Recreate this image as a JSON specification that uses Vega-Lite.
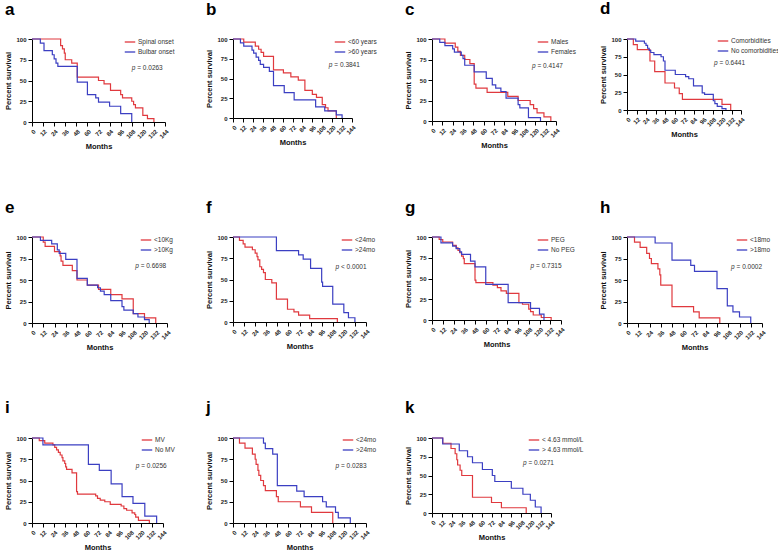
{
"$schema": "https://vega.github.io/schema/vega-lite/v6.json",
"background": "white",
"padding": {"left": 4, "top": 0, "right": 5, "bottom": 5},
"datasets": {
"km": [
{"panel":"a","group":"Spinal onset","month":0,"survival":100},{"panel":"a","group":"Spinal onset","month":31,"survival":92},{"panel":"a","group":"Spinal onset","month":33,"survival":88},{"panel":"a","group":"Spinal onset","month":35,"survival":83},{"panel":"a","group":"Spinal onset","month":36,"survival":75},{"panel":"a","group":"Spinal onset","month":43,"survival":71},{"panel":"a","group":"Spinal onset","month":49,"survival":54},{"panel":"a","group":"Spinal onset","month":72,"survival":50},{"panel":"a","group":"Spinal onset","month":78,"survival":46},{"panel":"a","group":"Spinal onset","month":85,"survival":38},{"panel":"a","group":"Spinal onset","month":96,"survival":33},{"panel":"a","group":"Spinal onset","month":98,"survival":29},{"panel":"a","group":"Spinal onset","month":108,"survival":25},{"panel":"a","group":"Spinal onset","month":110,"survival":21},{"panel":"a","group":"Spinal onset","month":112,"survival":17},{"panel":"a","group":"Spinal onset","month":120,"survival":8},{"panel":"a","group":"Spinal onset","month":125,"survival":4},{"panel":"a","group":"Spinal onset","month":132,"survival":0},
{"panel":"a","group":"Bulbar onset","month":0,"survival":100},{"panel":"a","group":"Bulbar onset","month":9,"survival":95},{"panel":"a","group":"Bulbar onset","month":13,"survival":86},{"panel":"a","group":"Bulbar onset","month":22,"survival":81},{"panel":"a","group":"Bulbar onset","month":24,"survival":76},{"panel":"a","group":"Bulbar onset","month":26,"survival":71},{"panel":"a","group":"Bulbar onset","month":28,"survival":67},{"panel":"a","group":"Bulbar onset","month":49,"survival":48},{"panel":"a","group":"Bulbar onset","month":60,"survival":33},{"panel":"a","group":"Bulbar onset","month":69,"survival":29},{"panel":"a","group":"Bulbar onset","month":72,"survival":24},{"panel":"a","group":"Bulbar onset","month":84,"survival":19},{"panel":"a","group":"Bulbar onset","month":96,"survival":10},{"panel":"a","group":"Bulbar onset","month":108,"survival":0},
{"panel":"b","group":"<60 years","month":0,"survival":100},{"panel":"b","group":"<60 years","month":13,"survival":96},{"panel":"b","group":"<60 years","month":27,"survival":91},{"panel":"b","group":"<60 years","month":31,"survival":87},{"panel":"b","group":"<60 years","month":34,"survival":83},{"panel":"b","group":"<60 years","month":37,"survival":78},{"panel":"b","group":"<60 years","month":49,"survival":61},{"panel":"b","group":"<60 years","month":61,"survival":57},{"panel":"b","group":"<60 years","month":70,"survival":52},{"panel":"b","group":"<60 years","month":79,"survival":48},{"panel":"b","group":"<60 years","month":87,"survival":35},{"panel":"b","group":"<60 years","month":96,"survival":30},{"panel":"b","group":"<60 years","month":101,"survival":26},{"panel":"b","group":"<60 years","month":108,"survival":17},{"panel":"b","group":"<60 years","month":112,"survival":13},{"panel":"b","group":"<60 years","month":115,"survival":9},{"panel":"b","group":"<60 years","month":125,"survival":0},
{"panel":"b","group":">60 years","month":0,"survival":100},{"panel":"b","group":">60 years","month":9,"survival":95},{"panel":"b","group":">60 years","month":13,"survival":91},{"panel":"b","group":">60 years","month":23,"survival":86},{"panel":"b","group":">60 years","month":25,"survival":82},{"panel":"b","group":">60 years","month":28,"survival":77},{"panel":"b","group":">60 years","month":31,"survival":73},{"panel":"b","group":">60 years","month":33,"survival":68},{"panel":"b","group":">60 years","month":37,"survival":64},{"panel":"b","group":">60 years","month":44,"survival":59},{"panel":"b","group":">60 years","month":49,"survival":41},{"panel":"b","group":">60 years","month":62,"survival":32},{"panel":"b","group":">60 years","month":74,"survival":23},{"panel":"b","group":">60 years","month":100,"survival":14},{"panel":"b","group":">60 years","month":111,"survival":9},{"panel":"b","group":">60 years","month":125,"survival":4},{"panel":"b","group":">60 years","month":132,"survival":0},
{"panel":"c","group":"Males","month":0,"survival":100},{"panel":"c","group":"Males","month":15,"survival":95},{"panel":"c","group":"Males","month":27,"survival":90},{"panel":"c","group":"Males","month":30,"survival":85},{"panel":"c","group":"Males","month":33,"survival":80},{"panel":"c","group":"Males","month":38,"survival":75},{"panel":"c","group":"Males","month":44,"survival":70},{"panel":"c","group":"Males","month":49,"survival":45},{"panel":"c","group":"Males","month":51,"survival":40},{"panel":"c","group":"Males","month":64,"survival":35},{"panel":"c","group":"Males","month":88,"survival":30},{"panel":"c","group":"Males","month":100,"survival":25},{"panel":"c","group":"Males","month":114,"survival":20},{"panel":"c","group":"Males","month":118,"survival":15},{"panel":"c","group":"Males","month":122,"survival":10},{"panel":"c","group":"Males","month":130,"survival":5},{"panel":"c","group":"Males","month":138,"survival":0},
{"panel":"c","group":"Females","month":0,"survival":100},{"panel":"c","group":"Females","month":9,"survival":96},{"panel":"c","group":"Females","month":15,"survival":92},{"panel":"c","group":"Females","month":24,"survival":88},{"panel":"c","group":"Females","month":26,"survival":84},{"panel":"c","group":"Females","month":34,"survival":80},{"panel":"c","group":"Females","month":36,"survival":76},{"panel":"c","group":"Females","month":38,"survival":68},{"panel":"c","group":"Females","month":49,"survival":60},{"panel":"c","group":"Females","month":63,"survival":52},{"panel":"c","group":"Females","month":70,"survival":44},{"panel":"c","group":"Females","month":74,"survival":40},{"panel":"c","group":"Females","month":80,"survival":36},{"panel":"c","group":"Females","month":86,"survival":28},{"panel":"c","group":"Females","month":100,"survival":20},{"panel":"c","group":"Females","month":102,"survival":16},{"panel":"c","group":"Females","month":112,"survival":4},{"panel":"c","group":"Females","month":126,"survival":0},
{"panel":"d","group":"Comorbidities","month":0,"survival":100},{"panel":"d","group":"Comorbidities","month":8,"survival":92},{"panel":"d","group":"Comorbidities","month":13,"survival":85},{"panel":"d","group":"Comorbidities","month":29,"survival":69},{"panel":"d","group":"Comorbidities","month":35,"survival":54},{"panel":"d","group":"Comorbidities","month":48,"survival":38},{"panel":"d","group":"Comorbidities","month":60,"survival":31},{"panel":"d","group":"Comorbidities","month":66,"survival":23},{"panel":"d","group":"Comorbidities","month":70,"survival":15},{"panel":"d","group":"Comorbidities","month":120,"survival":8},{"panel":"d","group":"Comorbidities","month":131,"survival":0},
{"panel":"d","group":"No comorbidities","month":0,"survival":100},{"panel":"d","group":"No comorbidities","month":11,"survival":97},{"panel":"d","group":"No comorbidities","month":22,"survival":94},{"panel":"d","group":"No comorbidities","month":24,"survival":91},{"panel":"d","group":"No comorbidities","month":26,"survival":87},{"panel":"d","group":"No comorbidities","month":28,"survival":84},{"panel":"d","group":"No comorbidities","month":30,"survival":81},{"panel":"d","group":"No comorbidities","month":34,"survival":78},{"panel":"d","group":"No comorbidities","month":43,"survival":75},{"panel":"d","group":"No comorbidities","month":46,"survival":69},{"panel":"d","group":"No comorbidities","month":48,"survival":56},{"panel":"d","group":"No comorbidities","month":61,"survival":50},{"panel":"d","group":"No comorbidities","month":74,"survival":47},{"panel":"d","group":"No comorbidities","month":78,"survival":44},{"panel":"d","group":"No comorbidities","month":84,"survival":34},{"panel":"d","group":"No comorbidities","month":95,"survival":24},{"panel":"d","group":"No comorbidities","month":98,"survival":22},{"panel":"d","group":"No comorbidities","month":109,"survival":13},{"panel":"d","group":"No comorbidities","month":111,"survival":9},{"panel":"d","group":"No comorbidities","month":114,"survival":5},{"panel":"d","group":"No comorbidities","month":120,"survival":2},{"panel":"d","group":"No comorbidities","month":125,"survival":0},
{"panel":"e","group":"<10Kg","month":0,"survival":100},{"panel":"e","group":"<10Kg","month":12,"survival":94},{"panel":"e","group":"<10Kg","month":14,"survival":89},{"panel":"e","group":"<10Kg","month":24,"survival":83},{"panel":"e","group":"<10Kg","month":30,"survival":78},{"panel":"e","group":"<10Kg","month":31,"survival":72},{"panel":"e","group":"<10Kg","month":33,"survival":67},{"panel":"e","group":"<10Kg","month":43,"survival":61},{"panel":"e","group":"<10Kg","month":48,"survival":50},{"panel":"e","group":"<10Kg","month":59,"survival":44},{"panel":"e","group":"<10Kg","month":71,"survival":39},{"panel":"e","group":"<10Kg","month":84,"survival":33},{"panel":"e","group":"<10Kg","month":96,"survival":28},{"panel":"e","group":"<10Kg","month":108,"survival":11},{"panel":"e","group":"<10Kg","month":120,"survival":6},{"panel":"e","group":"<10Kg","month":132,"survival":0},
{"panel":"e","group":">10Kg","month":0,"survival":100},{"panel":"e","group":">10Kg","month":9,"survival":96},{"panel":"e","group":">10Kg","month":21,"survival":92},{"panel":"e","group":">10Kg","month":27,"survival":85},{"panel":"e","group":">10Kg","month":29,"survival":81},{"panel":"e","group":">10Kg","month":36,"survival":74},{"panel":"e","group":">10Kg","month":48,"survival":52},{"panel":"e","group":">10Kg","month":59,"survival":44},{"panel":"e","group":">10Kg","month":70,"survival":41},{"panel":"e","group":">10Kg","month":73,"survival":37},{"panel":"e","group":">10Kg","month":77,"survival":33},{"panel":"e","group":">10Kg","month":84,"survival":26},{"panel":"e","group":">10Kg","month":96,"survival":19},{"panel":"e","group":">10Kg","month":98,"survival":15},{"panel":"e","group":">10Kg","month":108,"survival":11},{"panel":"e","group":">10Kg","month":113,"survival":7},{"panel":"e","group":">10Kg","month":120,"survival":4},{"panel":"e","group":">10Kg","month":125,"survival":0},
{"panel":"f","group":"<24mo","month":0,"survival":100},{"panel":"f","group":"<24mo","month":7,"survival":96},{"panel":"f","group":"<24mo","month":11,"survival":92},{"panel":"f","group":"<24mo","month":13,"survival":88},{"panel":"f","group":"<24mo","month":21,"survival":85},{"panel":"f","group":"<24mo","month":24,"survival":81},{"panel":"f","group":"<24mo","month":26,"survival":77},{"panel":"f","group":"<24mo","month":27,"survival":73},{"panel":"f","group":"<24mo","month":29,"survival":65},{"panel":"f","group":"<24mo","month":31,"survival":62},{"panel":"f","group":"<24mo","month":33,"survival":58},{"panel":"f","group":"<24mo","month":35,"survival":50},{"panel":"f","group":"<24mo","month":42,"survival":46},{"panel":"f","group":"<24mo","month":47,"survival":27},{"panel":"f","group":"<24mo","month":59,"survival":15},{"panel":"f","group":"<24mo","month":66,"survival":12},{"panel":"f","group":"<24mo","month":71,"survival":8},{"panel":"f","group":"<24mo","month":83,"survival":4},{"panel":"f","group":"<24mo","month":113,"survival":0},
{"panel":"f","group":">24mo","month":0,"survival":100},{"panel":"f","group":">24mo","month":47,"survival":84},{"panel":"f","group":">24mo","month":71,"survival":79},{"panel":"f","group":">24mo","month":76,"survival":74},{"panel":"f","group":">24mo","month":84,"survival":63},{"panel":"f","group":">24mo","month":96,"survival":47},{"panel":"f","group":">24mo","month":97,"survival":42},{"panel":"f","group":">24mo","month":108,"survival":21},{"panel":"f","group":">24mo","month":120,"survival":11},{"panel":"f","group":">24mo","month":125,"survival":5},{"panel":"f","group":">24mo","month":132,"survival":0},
{"panel":"g","group":"PEG","month":0,"survival":100},{"panel":"g","group":"PEG","month":8,"survival":97},{"panel":"g","group":"PEG","month":12,"survival":94},{"panel":"g","group":"PEG","month":23,"survival":90},{"panel":"g","group":"PEG","month":27,"survival":87},{"panel":"g","group":"PEG","month":29,"survival":84},{"panel":"g","group":"PEG","month":31,"survival":81},{"panel":"g","group":"PEG","month":33,"survival":77},{"panel":"g","group":"PEG","month":35,"survival":74},{"panel":"g","group":"PEG","month":36,"survival":68},{"panel":"g","group":"PEG","month":48,"survival":48},{"panel":"g","group":"PEG","month":49,"survival":45},{"panel":"g","group":"PEG","month":68,"survival":42},{"panel":"g","group":"PEG","month":73,"survival":39},{"panel":"g","group":"PEG","month":77,"survival":35},{"panel":"g","group":"PEG","month":83,"survival":32},{"panel":"g","group":"PEG","month":97,"survival":21},{"panel":"g","group":"PEG","month":101,"survival":19},{"panel":"g","group":"PEG","month":108,"survival":13},{"panel":"g","group":"PEG","month":110,"survival":10},{"panel":"g","group":"PEG","month":113,"survival":6},{"panel":"g","group":"PEG","month":122,"survival":3},{"panel":"g","group":"PEG","month":133,"survival":0},
{"panel":"g","group":"No PEG","month":0,"survival":100},{"panel":"g","group":"No PEG","month":10,"survival":93},{"panel":"g","group":"No PEG","month":23,"survival":89},{"panel":"g","group":"No PEG","month":27,"survival":86},{"panel":"g","group":"No PEG","month":31,"survival":82},{"panel":"g","group":"No PEG","month":33,"survival":79},{"panel":"g","group":"No PEG","month":43,"survival":71},{"panel":"g","group":"No PEG","month":48,"survival":64},{"panel":"g","group":"No PEG","month":60,"survival":43},{"panel":"g","group":"No PEG","month":85,"survival":21},{"panel":"g","group":"No PEG","month":110,"survival":14},{"panel":"g","group":"No PEG","month":120,"survival":7},{"panel":"g","group":"No PEG","month":125,"survival":0},
{"panel":"h","group":"<18mo","month":0,"survival":100},{"panel":"h","group":"<18mo","month":8,"survival":94},{"panel":"h","group":"<18mo","month":14,"survival":88},{"panel":"h","group":"<18mo","month":21,"survival":81},{"panel":"h","group":"<18mo","month":24,"survival":75},{"panel":"h","group":"<18mo","month":26,"survival":69},{"panel":"h","group":"<18mo","month":33,"survival":63},{"panel":"h","group":"<18mo","month":35,"survival":56},{"panel":"h","group":"<18mo","month":36,"survival":44},{"panel":"h","group":"<18mo","month":48,"survival":19},{"panel":"h","group":"<18mo","month":71,"survival":13},{"panel":"h","group":"<18mo","month":77,"survival":6},{"panel":"h","group":"<18mo","month":99,"survival":0},
{"panel":"h","group":">18mo","month":0,"survival":100},{"panel":"h","group":">18mo","month":30,"survival":93},{"panel":"h","group":">18mo","month":48,"survival":73},{"panel":"h","group":">18mo","month":68,"survival":67},{"panel":"h","group":">18mo","month":72,"survival":60},{"panel":"h","group":">18mo","month":96,"survival":40},{"panel":"h","group":">18mo","month":107,"survival":20},{"panel":"h","group":">18mo","month":113,"survival":13},{"panel":"h","group":">18mo","month":120,"survival":7},{"panel":"h","group":">18mo","month":132,"survival":0},
{"panel":"i","group":"MV","month":0,"survival":100},{"panel":"i","group":"MV","month":8,"survival":97},{"panel":"i","group":"MV","month":14,"survival":94},{"panel":"i","group":"MV","month":23,"survival":92},{"panel":"i","group":"MV","month":25,"survival":89},{"panel":"i","group":"MV","month":27,"survival":86},{"panel":"i","group":"MV","month":29,"survival":83},{"panel":"i","group":"MV","month":31,"survival":80},{"panel":"i","group":"MV","month":33,"survival":77},{"panel":"i","group":"MV","month":34,"survival":73},{"panel":"i","group":"MV","month":36,"survival":70},{"panel":"i","group":"MV","month":37,"survival":66},{"panel":"i","group":"MV","month":38,"survival":63},{"panel":"i","group":"MV","month":44,"survival":59},{"panel":"i","group":"MV","month":49,"survival":37},{"panel":"i","group":"MV","month":50,"survival":34},{"panel":"i","group":"MV","month":70,"survival":32},{"panel":"i","group":"MV","month":72,"survival":29},{"panel":"i","group":"MV","month":75,"survival":27},{"panel":"i","group":"MV","month":80,"survival":25},{"panel":"i","group":"MV","month":86,"survival":22},{"panel":"i","group":"MV","month":98,"survival":20},{"panel":"i","group":"MV","month":101,"survival":17},{"panel":"i","group":"MV","month":104,"survival":15},{"panel":"i","group":"MV","month":110,"survival":12},{"panel":"i","group":"MV","month":113,"survival":10},{"panel":"i","group":"MV","month":114,"survival":7},{"panel":"i","group":"MV","month":117,"survival":3},{"panel":"i","group":"MV","month":129,"survival":0},
{"panel":"i","group":"No MV","month":0,"survival":100},{"panel":"i","group":"No MV","month":12,"survival":92},{"panel":"i","group":"No MV","month":62,"survival":69},{"panel":"i","group":"No MV","month":74,"survival":62},{"panel":"i","group":"No MV","month":87,"survival":46},{"panel":"i","group":"No MV","month":99,"survival":31},{"panel":"i","group":"No MV","month":111,"survival":23},{"panel":"i","group":"No MV","month":124,"survival":8},{"panel":"i","group":"No MV","month":137,"survival":0},
{"panel":"j","group":"<24mo","month":0,"survival":100},{"panel":"j","group":"<24mo","month":7,"survival":94},{"panel":"j","group":"<24mo","month":13,"survival":88},{"panel":"j","group":"<24mo","month":21,"survival":81},{"panel":"j","group":"<24mo","month":24,"survival":75},{"panel":"j","group":"<24mo","month":25,"survival":69},{"panel":"j","group":"<24mo","month":27,"survival":62},{"panel":"j","group":"<24mo","month":28,"survival":56},{"panel":"j","group":"<24mo","month":30,"survival":50},{"panel":"j","group":"<24mo","month":33,"survival":44},{"panel":"j","group":"<24mo","month":35,"survival":38},{"panel":"j","group":"<24mo","month":47,"survival":31},{"panel":"j","group":"<24mo","month":49,"survival":25},{"panel":"j","group":"<24mo","month":73,"survival":19},{"panel":"j","group":"<24mo","month":85,"survival":12.5},{"panel":"j","group":"<24mo","month":108,"survival":0},
{"panel":"j","group":">24mo","month":0,"survival":100},{"panel":"j","group":">24mo","month":33,"survival":94},{"panel":"j","group":">24mo","month":35,"survival":87.5},{"panel":"j","group":">24mo","month":43,"survival":81},{"panel":"j","group":">24mo","month":48,"survival":44},{"panel":"j","group":">24mo","month":69,"survival":37.5},{"panel":"j","group":">24mo","month":77,"survival":31},{"panel":"j","group":">24mo","month":97,"survival":25},{"panel":"j","group":">24mo","month":101,"survival":19},{"panel":"j","group":">24mo","month":111,"survival":12.5},{"panel":"j","group":">24mo","month":114,"survival":6},{"panel":"j","group":">24mo","month":127,"survival":0},
{"panel":"k","group":"< 4.63 mmol/L","month":0,"survival":100},{"panel":"k","group":"< 4.63 mmol/L","month":13,"survival":93},{"panel":"k","group":"< 4.63 mmol/L","month":23,"survival":86},{"panel":"k","group":"< 4.63 mmol/L","month":28,"survival":79},{"panel":"k","group":"< 4.63 mmol/L","month":30,"survival":71},{"panel":"k","group":"< 4.63 mmol/L","month":31,"survival":64},{"panel":"k","group":"< 4.63 mmol/L","month":34,"survival":57},{"panel":"k","group":"< 4.63 mmol/L","month":36,"survival":50},{"panel":"k","group":"< 4.63 mmol/L","month":49,"survival":21},{"panel":"k","group":"< 4.63 mmol/L","month":72,"survival":14},{"panel":"k","group":"< 4.63 mmol/L","month":84,"survival":7},{"panel":"k","group":"< 4.63 mmol/L","month":114,"survival":0},
{"panel":"k","group":"> 4.63 mmol/L","month":0,"survival":100},{"panel":"k","group":"> 4.63 mmol/L","month":13,"survival":92},{"panel":"k","group":"> 4.63 mmol/L","month":33,"survival":83},{"panel":"k","group":"> 4.63 mmol/L","month":43,"survival":75},{"panel":"k","group":"> 4.63 mmol/L","month":49,"survival":67},{"panel":"k","group":"> 4.63 mmol/L","month":61,"survival":58},{"panel":"k","group":"> 4.63 mmol/L","month":73,"survival":50},{"panel":"k","group":"> 4.63 mmol/L","month":76,"survival":42},{"panel":"k","group":"> 4.63 mmol/L","month":96,"survival":33},{"panel":"k","group":"> 4.63 mmol/L","month":110,"survival":25},{"panel":"k","group":"> 4.63 mmol/L","month":119,"survival":17},{"panel":"k","group":"> 4.63 mmol/L","month":125,"survival":8},{"panel":"k","group":"> 4.63 mmol/L","month":132,"survival":0}
],
"pv": [
{"panel":"a","value":"= 0.0263"},{"panel":"b","value":"= 0.3841"},{"panel":"c","value":"= 0.4147"},{"panel":"d","value":"= 0.6441"},{"panel":"e","value":"= 0.6698"},{"panel":"f","value":"< 0.0001"},{"panel":"g","value":"= 0.7315"},{"panel":"h","value":"= 0.0002"},{"panel":"i","value":"= 0.0256"},{"panel":"j","value":"= 0.0283"},{"panel":"k","value":"= 0.0271"}
]
},
"columns": 4,
"spacing": {"row": 115, "column": 66},
"bounds": "flush",
"resolve": {"scale": {"color": "independent", "x": "independent", "y": "independent"}, "legend": {"color": "independent"}},
"concat": [
{"title": "a", "width": 133, "height": 83, "layer": [
 {"data": {"name": "km"}, "transform": [{"filter": "datum.panel === 'a'"}], "mark": {"type": "line", "interpolate": "step-after", "strokeWidth": 1.2},
  "encoding": {"x": {"field": "month", "type": "quantitative", "scale": {"domain": [0, 144], "nice": false}, "axis": {"values": [0,12,24,36,48,60,72,84,96,108,120,132,144], "tickCount": 20, "title": "Months"}},
   "y": {"field": "survival", "type": "quantitative", "scale": {"domain": [0, 100], "nice": false}, "axis": {"values": [0,25,50,75,100], "tickCount": 10, "title": "Percent survival"}},
   "color": {"field": "group", "type": "nominal", "scale": {"domain": ["Spinal onset", "Bulbar onset"], "range": ["#e0393e", "#3b3fc2"]}, "legend": {"title": null, "legendX": 92, "legendY": -3}}}},
 {"data": {"name": "pv"}, "transform": [{"filter": "datum.panel === 'a'"}], "mark": {"type": "text", "fontStyle": "italic", "align": "left", "baseline": "middle", "fontSize": 6.5, "color": "#333"}, "encoding": {"x": {"datum": 108, "type": "quantitative"}, "y": {"datum": 65, "type": "quantitative"}, "text": {"value": "p"}}},
 {"data": {"name": "pv"}, "transform": [{"filter": "datum.panel === 'a'"}], "mark": {"type": "text", "align": "left", "baseline": "middle", "fontSize": 6.5, "color": "#333", "dx": 5.5}, "encoding": {"x": {"datum": 108, "type": "quantitative"}, "y": {"datum": 65, "type": "quantitative"}, "text": {"field": "value"}}}
]},
{"title": "b", "width": 119, "height": 79, "layer": [
 {"data": {"name": "km"}, "transform": [{"filter": "datum.panel === 'b'"}], "mark": {"type": "line", "interpolate": "step-after", "strokeWidth": 1.2},
  "encoding": {"x": {"field": "month", "type": "quantitative", "scale": {"domain": [0, 144], "nice": false}, "axis": {"values": [0,12,24,36,48,60,72,84,96,108,120,132,144], "tickCount": 20, "title": "Months"}},
   "y": {"field": "survival", "type": "quantitative", "scale": {"domain": [0, 100], "nice": false}, "axis": {"values": [0,25,50,75,100], "tickCount": 10, "title": "Percent survival"}},
   "color": {"field": "group", "type": "nominal", "scale": {"domain": ["<60 years", ">60 years"], "range": ["#e0393e", "#3b3fc2"]}, "legend": {"title": null, "legendX": 101, "legendY": -3}}}},
 {"data": {"name": "pv"}, "transform": [{"filter": "datum.panel === 'b'"}], "mark": {"type": "text", "fontStyle": "italic", "align": "left", "baseline": "middle", "fontSize": 6.5, "color": "#333"}, "encoding": {"x": {"datum": 116, "type": "quantitative"}, "y": {"datum": 67, "type": "quantitative"}, "text": {"value": "p"}}},
 {"data": {"name": "pv"}, "transform": [{"filter": "datum.panel === 'b'"}], "mark": {"type": "text", "align": "left", "baseline": "middle", "fontSize": 6.5, "color": "#333", "dx": 5.5}, "encoding": {"x": {"datum": 116, "type": "quantitative"}, "y": {"datum": 67, "type": "quantitative"}, "text": {"field": "value"}}}
]},
{"title": "c", "width": 124, "height": 82, "layer": [
 {"data": {"name": "km"}, "transform": [{"filter": "datum.panel === 'c'"}], "mark": {"type": "line", "interpolate": "step-after", "strokeWidth": 1.2},
  "encoding": {"x": {"field": "month", "type": "quantitative", "scale": {"domain": [0, 144], "nice": false}, "axis": {"values": [0,12,24,36,48,60,72,84,96,108,120,132,144], "tickCount": 20, "title": "Months"}},
   "y": {"field": "survival", "type": "quantitative", "scale": {"domain": [0, 100], "nice": false}, "axis": {"values": [0,25,50,75,100], "tickCount": 10, "title": "Percent survival"}},
   "color": {"field": "group", "type": "nominal", "scale": {"domain": ["Males", "Females"], "range": ["#e0393e", "#3b3fc2"]}, "legend": {"title": null, "legendX": 105, "legendY": -3}}}},
 {"data": {"name": "pv"}, "transform": [{"filter": "datum.panel === 'c'"}], "mark": {"type": "text", "fontStyle": "italic", "align": "left", "baseline": "middle", "fontSize": 6.5, "color": "#333"}, "encoding": {"x": {"datum": 116, "type": "quantitative"}, "y": {"datum": 67, "type": "quantitative"}, "text": {"value": "p"}}},
 {"data": {"name": "pv"}, "transform": [{"filter": "datum.panel === 'c'"}], "mark": {"type": "text", "align": "left", "baseline": "middle", "fontSize": 6.5, "color": "#333", "dx": 5.5}, "encoding": {"x": {"datum": 116, "type": "quantitative"}, "y": {"datum": 67, "type": "quantitative"}, "text": {"field": "value"}}}
]},
{"title": "d", "width": 114, "height": 71, "layer": [
 {"data": {"name": "km"}, "transform": [{"filter": "datum.panel === 'd'"}], "mark": {"type": "line", "interpolate": "step-after", "strokeWidth": 1.2},
  "encoding": {"x": {"field": "month", "type": "quantitative", "scale": {"domain": [0, 144], "nice": false}, "axis": {"values": [0,12,24,36,48,60,72,84,96,108,120,132,144], "tickCount": 20, "title": "Months"}},
   "y": {"field": "survival", "type": "quantitative", "scale": {"domain": [0, 100], "nice": false}, "axis": {"values": [0,25,50,75,100], "tickCount": 10, "title": "Percent survival"}},
   "color": {"field": "group", "type": "nominal", "scale": {"domain": ["Comorbidities", "No comorbidities"], "range": ["#e0393e", "#3b3fc2"]}, "legend": {"title": null, "legendX": 90, "legendY": -4}}}},
 {"data": {"name": "pv"}, "transform": [{"filter": "datum.panel === 'd'"}], "mark": {"type": "text", "fontStyle": "italic", "align": "left", "baseline": "middle", "fontSize": 6.5, "color": "#333"}, "encoding": {"x": {"datum": 110, "type": "quantitative"}, "y": {"datum": 66, "type": "quantitative"}, "text": {"value": "p"}}},
 {"data": {"name": "pv"}, "transform": [{"filter": "datum.panel === 'd'"}], "mark": {"type": "text", "align": "left", "baseline": "middle", "fontSize": 6.5, "color": "#333", "dx": 5.5}, "encoding": {"x": {"datum": 110, "type": "quantitative"}, "y": {"datum": 66, "type": "quantitative"}, "text": {"field": "value"}}}
]},
{"title": "e", "width": 135, "height": 86, "layer": [
 {"data": {"name": "km"}, "transform": [{"filter": "datum.panel === 'e'"}], "mark": {"type": "line", "interpolate": "step-after", "strokeWidth": 1.2},
  "encoding": {"x": {"field": "month", "type": "quantitative", "scale": {"domain": [0, 144], "nice": false}, "axis": {"values": [0,12,24,36,48,60,72,84,96,108,120,132,144], "tickCount": 20, "title": "Months"}},
   "y": {"field": "survival", "type": "quantitative", "scale": {"domain": [0, 100], "nice": false}, "axis": {"values": [0,25,50,75,100], "tickCount": 10, "title": "Percent survival"}},
   "color": {"field": "group", "type": "nominal", "scale": {"domain": ["<10Kg", ">10Kg"], "range": ["#e0393e", "#3b3fc2"]}, "legend": {"title": null, "legendX": 108, "legendY": -3}}}},
 {"data": {"name": "pv"}, "transform": [{"filter": "datum.panel === 'e'"}], "mark": {"type": "text", "fontStyle": "italic", "align": "left", "baseline": "middle", "fontSize": 6.5, "color": "#333"}, "encoding": {"x": {"datum": 110, "type": "quantitative"}, "y": {"datum": 66, "type": "quantitative"}, "text": {"value": "p"}}},
 {"data": {"name": "pv"}, "transform": [{"filter": "datum.panel === 'e'"}], "mark": {"type": "text", "align": "left", "baseline": "middle", "fontSize": 6.5, "color": "#333", "dx": 5.5}, "encoding": {"x": {"datum": 110, "type": "quantitative"}, "y": {"datum": 66, "type": "quantitative"}, "text": {"field": "value"}}}
]},
{"title": "f", "width": 133, "height": 85, "layer": [
 {"data": {"name": "km"}, "transform": [{"filter": "datum.panel === 'f'"}], "mark": {"type": "line", "interpolate": "step-after", "strokeWidth": 1.2},
  "encoding": {"x": {"field": "month", "type": "quantitative", "scale": {"domain": [0, 144], "nice": false}, "axis": {"values": [0,12,24,36,48,60,72,84,96,108,120,132,144], "tickCount": 20, "title": "Months"}},
   "y": {"field": "survival", "type": "quantitative", "scale": {"domain": [0, 100], "nice": false}, "axis": {"values": [0,25,50,75,100], "tickCount": 10, "title": "Percent survival"}},
   "color": {"field": "group", "type": "nominal", "scale": {"domain": ["<24mo", ">24mo"], "range": ["#e0393e", "#3b3fc2"]}, "legend": {"title": null, "legendX": 108, "legendY": -3}}}},
 {"data": {"name": "pv"}, "transform": [{"filter": "datum.panel === 'f'"}], "mark": {"type": "text", "fontStyle": "italic", "align": "left", "baseline": "middle", "fontSize": 6.5, "color": "#333"}, "encoding": {"x": {"datum": 111, "type": "quantitative"}, "y": {"datum": 65, "type": "quantitative"}, "text": {"value": "p"}}},
 {"data": {"name": "pv"}, "transform": [{"filter": "datum.panel === 'f'"}], "mark": {"type": "text", "align": "left", "baseline": "middle", "fontSize": 6.5, "color": "#333", "dx": 5.5}, "encoding": {"x": {"datum": 111, "type": "quantitative"}, "y": {"datum": 65, "type": "quantitative"}, "text": {"field": "value"}}}
]},
{"title": "g", "width": 129, "height": 83, "layer": [
 {"data": {"name": "km"}, "transform": [{"filter": "datum.panel === 'g'"}], "mark": {"type": "line", "interpolate": "step-after", "strokeWidth": 1.2},
  "encoding": {"x": {"field": "month", "type": "quantitative", "scale": {"domain": [0, 144], "nice": false}, "axis": {"values": [0,12,24,36,48,60,72,84,96,108,120,132,144], "tickCount": 20, "title": "Months"}},
   "y": {"field": "survival", "type": "quantitative", "scale": {"domain": [0, 100], "nice": false}, "axis": {"values": [0,25,50,75,100], "tickCount": 10, "title": "Percent survival"}},
   "color": {"field": "group", "type": "nominal", "scale": {"domain": ["PEG", "No PEG"], "range": ["#e0393e", "#3b3fc2"]}, "legend": {"title": null, "legendX": 105, "legendY": -3}}}},
 {"data": {"name": "pv"}, "transform": [{"filter": "datum.panel === 'g'"}], "mark": {"type": "text", "fontStyle": "italic", "align": "left", "baseline": "middle", "fontSize": 6.5, "color": "#333"}, "encoding": {"x": {"datum": 110, "type": "quantitative"}, "y": {"datum": 65, "type": "quantitative"}, "text": {"value": "p"}}},
 {"data": {"name": "pv"}, "transform": [{"filter": "datum.panel === 'g'"}], "mark": {"type": "text", "align": "left", "baseline": "middle", "fontSize": 6.5, "color": "#333", "dx": 5.5}, "encoding": {"x": {"datum": 110, "type": "quantitative"}, "y": {"datum": 65, "type": "quantitative"}, "text": {"field": "value"}}}
]},
{"title": "h", "width": 135, "height": 86, "layer": [
 {"data": {"name": "km"}, "transform": [{"filter": "datum.panel === 'h'"}], "mark": {"type": "line", "interpolate": "step-after", "strokeWidth": 1.2},
  "encoding": {"x": {"field": "month", "type": "quantitative", "scale": {"domain": [0, 144], "nice": false}, "axis": {"values": [0,12,24,36,48,60,72,84,96,108,120,132,144], "tickCount": 20, "title": "Months"}},
   "y": {"field": "survival", "type": "quantitative", "scale": {"domain": [0, 100], "nice": false}, "axis": {"values": [0,25,50,75,100], "tickCount": 10, "title": "Percent survival"}},
   "color": {"field": "group", "type": "nominal", "scale": {"domain": ["<18mo", ">18mo"], "range": ["#e0393e", "#3b3fc2"]}, "legend": {"title": null, "legendX": 109, "legendY": -3}}}},
 {"data": {"name": "pv"}, "transform": [{"filter": "datum.panel === 'h'"}], "mark": {"type": "text", "fontStyle": "italic", "align": "left", "baseline": "middle", "fontSize": 6.5, "color": "#333"}, "encoding": {"x": {"datum": 111, "type": "quantitative"}, "y": {"datum": 65, "type": "quantitative"}, "text": {"value": "p"}}},
 {"data": {"name": "pv"}, "transform": [{"filter": "datum.panel === 'h'"}], "mark": {"type": "text", "align": "left", "baseline": "middle", "fontSize": 6.5, "color": "#333", "dx": 5.5}, "encoding": {"x": {"datum": 111, "type": "quantitative"}, "y": {"datum": 65, "type": "quantitative"}, "text": {"field": "value"}}}
]},
{"title": "i", "width": 131, "height": 85, "layer": [
 {"data": {"name": "km"}, "transform": [{"filter": "datum.panel === 'i'"}], "mark": {"type": "line", "interpolate": "step-after", "strokeWidth": 1.2},
  "encoding": {"x": {"field": "month", "type": "quantitative", "scale": {"domain": [0, 144], "nice": false}, "axis": {"values": [0,12,24,36,48,60,72,84,96,108,120,132,144], "tickCount": 20, "title": "Months"}},
   "y": {"field": "survival", "type": "quantitative", "scale": {"domain": [0, 100], "nice": false}, "axis": {"values": [0,25,50,75,100], "tickCount": 10, "title": "Percent survival"}},
   "color": {"field": "group", "type": "nominal", "scale": {"domain": ["MV", "No MV"], "range": ["#e0393e", "#3b3fc2"]}, "legend": {"title": null, "legendX": 109, "legendY": -4}}}},
 {"data": {"name": "pv"}, "transform": [{"filter": "datum.panel === 'i'"}], "mark": {"type": "text", "fontStyle": "italic", "align": "left", "baseline": "middle", "fontSize": 6.5, "color": "#333"}, "encoding": {"x": {"datum": 114, "type": "quantitative"}, "y": {"datum": 67, "type": "quantitative"}, "text": {"value": "p"}}},
 {"data": {"name": "pv"}, "transform": [{"filter": "datum.panel === 'i'"}], "mark": {"type": "text", "align": "left", "baseline": "middle", "fontSize": 6.5, "color": "#333", "dx": 5.5}, "encoding": {"x": {"datum": 114, "type": "quantitative"}, "y": {"datum": 67, "type": "quantitative"}, "text": {"field": "value"}}}
]},
{"title": "j", "width": 133, "height": 85, "layer": [
 {"data": {"name": "km"}, "transform": [{"filter": "datum.panel === 'j'"}], "mark": {"type": "line", "interpolate": "step-after", "strokeWidth": 1.2},
  "encoding": {"x": {"field": "month", "type": "quantitative", "scale": {"domain": [0, 144], "nice": false}, "axis": {"values": [0,12,24,36,48,60,72,84,96,108,120,132,144], "tickCount": 20, "title": "Months"}},
   "y": {"field": "survival", "type": "quantitative", "scale": {"domain": [0, 100], "nice": false}, "axis": {"values": [0,25,50,75,100], "tickCount": 10, "title": "Percent survival"}},
   "color": {"field": "group", "type": "nominal", "scale": {"domain": ["<24mo", ">24mo"], "range": ["#e0393e", "#3b3fc2"]}, "legend": {"title": null, "legendX": 109, "legendY": -4}}}},
 {"data": {"name": "pv"}, "transform": [{"filter": "datum.panel === 'j'"}], "mark": {"type": "text", "fontStyle": "italic", "align": "left", "baseline": "middle", "fontSize": 6.5, "color": "#333"}, "encoding": {"x": {"datum": 111, "type": "quantitative"}, "y": {"datum": 67, "type": "quantitative"}, "text": {"value": "p"}}},
 {"data": {"name": "pv"}, "transform": [{"filter": "datum.panel === 'j'"}], "mark": {"type": "text", "align": "left", "baseline": "middle", "fontSize": 6.5, "color": "#333", "dx": 5.5}, "encoding": {"x": {"datum": 111, "type": "quantitative"}, "y": {"datum": 67, "type": "quantitative"}, "text": {"field": "value"}}}
]},
{"title": "k", "width": 119, "height": 75, "layer": [
 {"data": {"name": "km"}, "transform": [{"filter": "datum.panel === 'k'"}], "mark": {"type": "line", "interpolate": "step-after", "strokeWidth": 1.2},
  "encoding": {"x": {"field": "month", "type": "quantitative", "scale": {"domain": [0, 144], "nice": false}, "axis": {"values": [0,12,24,36,48,60,72,84,96,108,120,132,144], "tickCount": 20, "title": "Months"}},
   "y": {"field": "survival", "type": "quantitative", "scale": {"domain": [0, 100], "nice": false}, "axis": {"values": [0,25,50,75,100], "tickCount": 10, "title": "Percent survival"}},
   "color": {"field": "group", "type": "nominal", "scale": {"domain": ["< 4.63 mmol/L", "> 4.63 mmol/L"], "range": ["#e0393e", "#3b3fc2"]}, "legend": {"title": null, "legendX": 96, "legendY": -4}}}},
 {"data": {"name": "pv"}, "transform": [{"filter": "datum.panel === 'k'"}], "mark": {"type": "text", "fontStyle": "italic", "align": "left", "baseline": "middle", "fontSize": 6.5, "color": "#333"}, "encoding": {"x": {"datum": 110, "type": "quantitative"}, "y": {"datum": 67, "type": "quantitative"}, "text": {"value": "p"}}},
 {"data": {"name": "pv"}, "transform": [{"filter": "datum.panel === 'k'"}], "mark": {"type": "text", "align": "left", "baseline": "middle", "fontSize": 6.5, "color": "#333", "dx": 5.5}, "encoding": {"x": {"datum": 110, "type": "quantitative"}, "y": {"datum": 67, "type": "quantitative"}, "text": {"field": "value"}}}
]}
],
"config": {
 "view": {"stroke": null},
 "font": "Liberation Sans",
 "title": {"fontSize": 17, "fontWeight": "bold", "anchor": "start", "frame": "bounds", "offset": 17, "color": "#000"},
 "axis": {"domainColor": "#000", "tickColor": "#000", "domainWidth": 1, "tickWidth": 1, "tickSize": 4, "labelFontSize": 6, "labelColor": "#222", "labelFontWeight": "bold", "labelOverlap": false, "labelFlush": false, "titleFontSize": 7.5, "titleFontWeight": "bold", "titleColor": "#111", "grid": false, "labelPadding": 2},
 "axisX": {"labelAngle": -45, "titlePadding": 3},
 "axisY": {"titlePadding": 3},
 "legend": {"orient": "none", "symbolType": "stroke", "symbolSize": 110, "symbolStrokeWidth": 1.3, "labelFontSize": 6.5, "labelColor": "#333", "rowPadding": 0, "labelOffset": 2, "padding": 0}
}
}
